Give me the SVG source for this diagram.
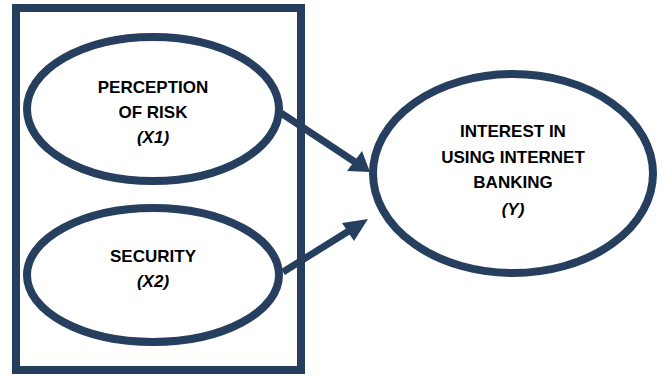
<svg xmlns="http://www.w3.org/2000/svg" width="663" height="376" viewBox="0 0 663 376">
<style>
.shape{fill:#fff;stroke:#263F5F;stroke-width:8}
.frame{fill:none;stroke:#263F5F;stroke-width:8}
.conn{stroke:#263F5F;stroke-width:7;fill:none}
.head{fill:#263F5F}
text{font-family:"Liberation Sans",Arial,sans-serif;font-weight:bold;font-size:17px;text-anchor:middle;fill:#000}
.it{font-style:italic}
</style>
<rect class="frame" x="16" y="8" width="285" height="362"/>
<g id="connectors">
<line class="conn" x1="281" y1="113" x2="355" y2="162"/>
<polygon class="head" points="370,172 347,171 362,151"/>
<line class="conn" x1="283" y1="272" x2="352" y2="229"/>
<polygon class="head" points="368,219 342,223 354,241"/>
</g>
<g id="perception">
<ellipse class="shape" cx="153" cy="109" rx="126" ry="72"/>
<text x="153" y="93">PERCEPTION</text>
<text x="153" y="118">OF RISK</text>
<text class="it" x="153" y="143">(X1)</text>
</g>
<g id="security">
<ellipse class="shape" cx="153" cy="275" rx="126" ry="67"/>
<text x="153" y="262">SECURITY</text>
<text class="it" x="153" y="287">(X2)</text>
</g>
<g id="interest">
<ellipse class="shape" cx="513" cy="173.5" rx="140" ry="99.5"/>
<text x="513" y="137">INTEREST IN</text>
<text x="513" y="163">USING INTERNET</text>
<text x="513" y="188">BANKING</text>
<text class="it" x="513" y="215">(Y)</text>
</g>
</svg>
